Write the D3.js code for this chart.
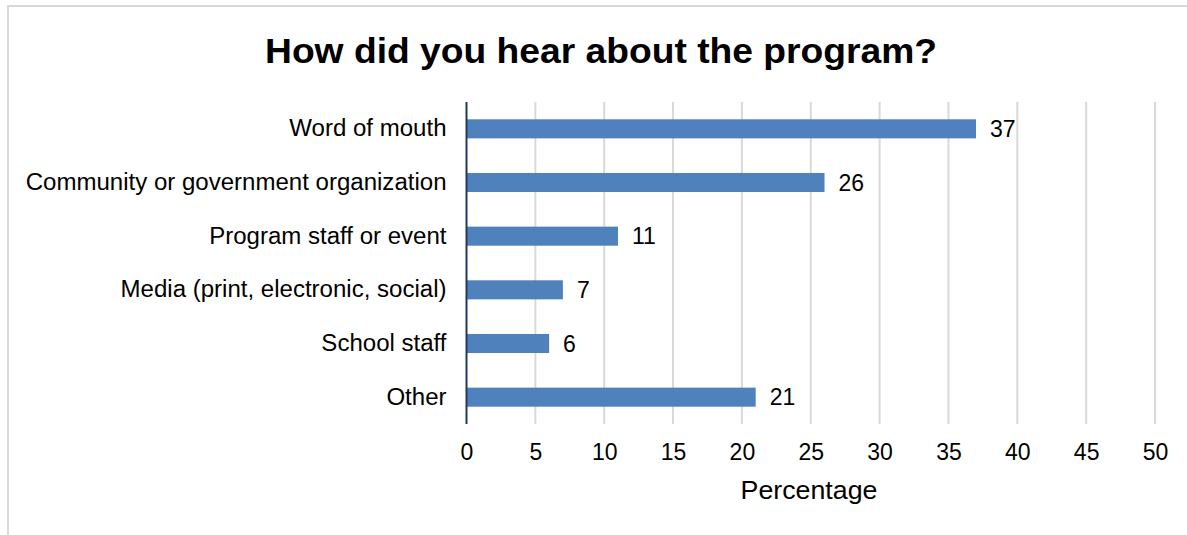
<!DOCTYPE html>
<html><head><meta charset="utf-8">
<script src="https://cdn.jsdelivr.net/npm/d3@7"></script>
<style>body{margin:0;background:#fff;} text{font-family:"Liberation Sans",Arial,sans-serif;}</style>
</head><body>
<svg id="c" width="1187" height="535"></svg>
<script>
const categories = ["Word of mouth","Community or government organization","Program staff or event","Media (print, electronic, social)","School staff","Other"];
const values = [37,26,11,7,6,21];
const xTicks = [0,5,10,15,20,25,30,35,40,45,50];
const title = "How did you hear about the program?";
const xTitle = "Percentage";

function stretch(sel, f){
  sel.each(function(){
    const w = this.getComputedTextLength();
    d3.select(this).attr("textLength", w*f).attr("lengthAdjust","spacingAndGlyphs");
  });
}

const svg = d3.select("#c");
svg.append("rect").attr("x",8).attr("y",6).attr("width",1200).attr("height",560)
  .attr("fill","#fff").attr("stroke","#d9d9d9").attr("stroke-width",2);

const x = d3.scaleLinear().domain([0,50]).range([466.5,1155]);
const y = d3.scaleBand().domain(categories).range([102,424]).paddingInner(0.645).paddingOuter(0.3225);

svg.append("g").selectAll("line").data(xTicks.filter(d=>d>0)).join("line")
  .attr("x1",d=>x(d)).attr("x2",d=>x(d)).attr("y1",102).attr("y2",424)
  .attr("stroke","#d9d9d9").attr("stroke-width",2);

svg.append("g").selectAll("rect").data(values).join("rect")
  .attr("x",x(0)).attr("y",(d,i)=>y(categories[i]))
  .attr("width",d=>x(d)-x(0)).attr("height",y.bandwidth())
  .attr("fill","#4f81bd");

svg.append("g").selectAll("text").data(values).join("text")
  .attr("x",d=>x(d)+14).attr("y",(d,i)=>y(categories[i])+y.bandwidth()/2)
  .attr("dy","0.36em").attr("font-size",23).attr("fill","#000").text(d=>d);

svg.append("line").attr("x1",x(0)).attr("x2",x(0)).attr("y1",102).attr("y2",424)
  .attr("stroke","#203864").attr("stroke-width",2);

const yAxis = d3.axisLeft(y).tickSize(0).tickPadding(20);
const gy = svg.append("g").attr("transform",`translate(${x(0)},0)`).call(yAxis);
gy.select(".domain").remove();
gy.selectAll("text").attr("font-size",23).attr("fill","#000").attr("font-family","Liberation Sans, Arial, sans-serif");
stretch(gy.selectAll("text"), 1.045);

const xAxis = d3.axisBottom(x).tickValues(xTicks).tickSize(0).tickPadding(20);
const gx = svg.append("g").attr("transform","translate(0,424)").call(xAxis);
gx.select(".domain").remove();
gx.selectAll("text").attr("font-size",23).attr("fill","#000").attr("font-family","Liberation Sans, Arial, sans-serif");

const xt = svg.append("text").attr("x",809).attr("y",499).attr("text-anchor","middle")
  .attr("font-size",25).attr("fill","#000").text(xTitle);
stretch(xt, 1.07);

const tt = svg.append("text").attr("x",601).attr("y",63).attr("text-anchor","middle")
  .attr("font-size",35).attr("font-weight","bold").attr("fill","#000").text(title);
tt.attr("textLength",672).attr("lengthAdjust","spacingAndGlyphs");
</script>
</body></html>
